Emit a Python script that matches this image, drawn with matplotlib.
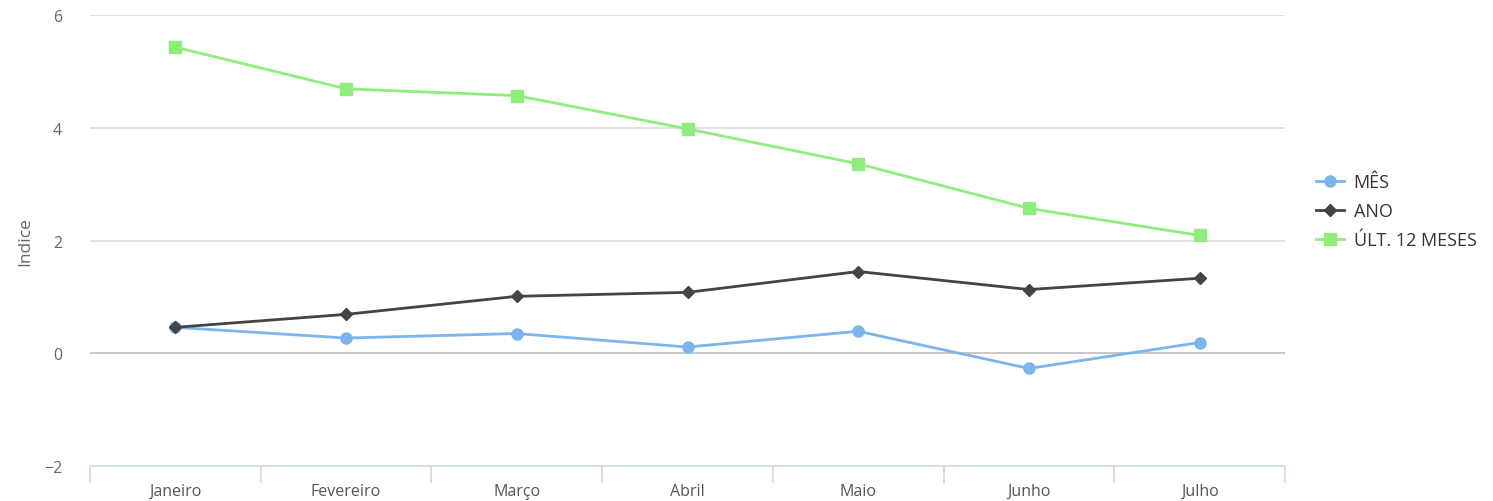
import matplotlib
matplotlib.use('Agg')
import matplotlib.pyplot as plt

plt.rcParams['font.family'] = ['Open Sans', 'DejaVu Sans']

meses = ['Janeiro', 'Fevereiro', 'Março', 'Abril', 'Maio', 'Junho', 'Julho']
mes = [0.46, 0.27, 0.35, 0.11, 0.39, -0.27, 0.19]
ano = [0.46, 0.69, 1.01, 1.08, 1.45, 1.13, 1.33]
ult12 = [5.43, 4.69, 4.57, 3.98, 3.36, 2.57, 2.09]
yticks = [-2, 0, 2, 4, 6]

W, H = 1493, 502
fig = plt.figure(figsize=(W / 100, H / 100), dpi=100)
ax = fig.add_axes([90 / W, (H - 467) / H, (1285 - 90) / W, (467 - 16) / H])

x = list(range(len(meses)))
ax.plot(x, mes, '-o', c='#7cb5ec', lw=2, ms=8, label=u'MÊS', zorder=3)
ax.plot(x, ano, '-D', c='#434348', lw=2, ms=6, label='ANO', zorder=4)
ax.plot(x, ult12, '-s', c='#90ed7d', lw=2, ms=8, label=u'ÚLT. 12 MESES', zorder=3)

ax.set_xlim(-0.5, len(meses) - 0.5)
ax.set_ylim(-2, 6)
ax.set_yticks(yticks)
ax.set_yticklabels([u'\u22122' if v < 0 else str(v) for v in yticks])
for v in yticks:
    if v == -2:
        continue
    ax.axhline(v, color='#bdbdbd' if v == 0 else '#dcdcdc', lw=1.2, zorder=1)

for s in ['top', 'right', 'left']:
    ax.spines[s].set_visible(False)
ax.spines['bottom'].set_color('#ccd6eb')
ax.spines['bottom'].set_linewidth(1.2)

ax.set_xticks(x)
ax.set_xticklabels(meses)
ax.tick_params(axis='x', length=0, pad=12, labelsize=11.5, colors='#666666')
ax.set_xticks([i - 0.5 for i in range(len(meses) + 1)], minor=True)
ax.tick_params(axis='x', which='minor', length=12, color='#ccd6eb', width=1.2)
ax.tick_params(axis='y', length=0, pad=20, labelsize=11.5, colors='#666666')
for t in ax.get_xticklabels():
    t.set_color('#555555')

ax.set_ylabel('Indice', fontsize=12.5, color='#666666', labelpad=8)

leg = ax.legend(loc='center left', bbox_to_anchor=(1.012, 0.565), frameon=False,
                fontsize=13, handlelength=1.6, labelspacing=0.6, handletextpad=0.5)
for t in leg.get_texts():
    t.set_color('#333333')

plt.savefig('out.png', dpi=100)
